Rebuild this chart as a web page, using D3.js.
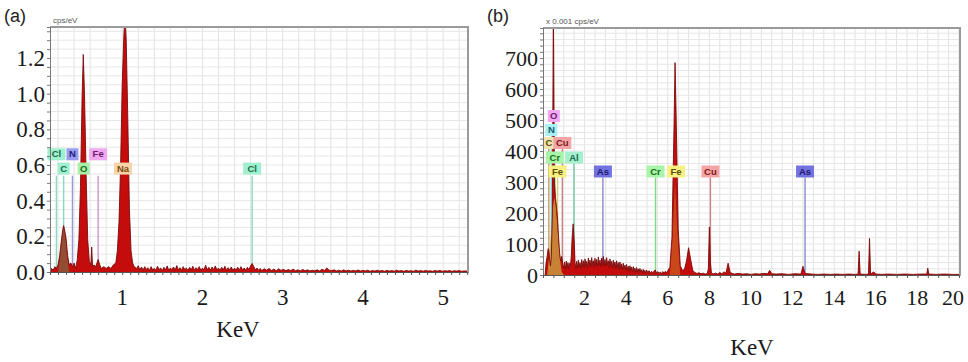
<!DOCTYPE html>
<html>
<head>
<meta charset="utf-8">
<script src="https://cdn.jsdelivr.net/npm/d3@7"></script>
<style>
  body { margin: 0; background: #fff; }
  svg { display: block; }
</style>
</head>
<body>
<svg id="chart" width="968" height="362"></svg>
<script>
// ---- data ----

// (a) spectrum, [keV, cps/eV]
const spectrumA = [
  [0.10,0.00],[0.12,0.02],[0.14,0.01],[0.16,0.03],[0.18,0.02],[0.20,0.04],[0.22,0.09],[0.24,0.17],
  [0.26,0.24],[0.27,0.26],[0.28,0.24],[0.30,0.19],[0.32,0.09],[0.34,0.04],[0.36,0.05],[0.38,0.03],
  [0.40,0.05],[0.42,0.02],[0.44,0.07],[0.46,0.18],[0.48,0.48],[0.50,0.98],[0.515,1.22],[0.53,1.00],
  [0.55,0.55],[0.57,0.18],[0.59,0.06],[0.61,0.04],[0.62,0.14],[0.63,0.03],[0.65,0.04],[0.67,0.03],
  [0.70,0.07],[0.72,0.04],[0.74,0.02],[0.77,0.03],[0.80,0.02],[0.83,0.03],[0.86,0.02],[0.89,0.04],
  [0.92,0.05],[0.94,0.12],[0.96,0.28],[0.98,0.60],[1.00,1.05],[1.02,1.32],[1.035,1.45],[1.05,1.30],
  [1.07,0.85],[1.09,0.35],[1.11,0.12],[1.13,0.05],[1.15,0.03],[1.18,0.02],
  [1.20,0.035],[1.22,0.012],[1.24,0.028],[1.26,0.01],[1.28,0.03],[1.30,0.014],[1.32,0.024],[1.34,0.008],
  [1.36,0.03],[1.38,0.012],[1.40,0.02],[1.42,0.01],[1.44,0.032],[1.46,0.014],[1.48,0.022],[1.50,0.008],
  [1.52,0.026],[1.54,0.012],[1.56,0.034],[1.58,0.01],[1.60,0.022],[1.62,0.014],[1.64,0.028],[1.66,0.01],
  [1.68,0.036],[1.70,0.012],[1.72,0.024],[1.74,0.01],[1.76,0.03],[1.78,0.014],[1.80,0.022],[1.82,0.008],
  [1.84,0.026],[1.86,0.012],[1.88,0.032],[1.90,0.01],[1.92,0.024],[1.94,0.014],[1.96,0.03],[1.98,0.01],
  [2.00,0.022],[2.02,0.012],[2.04,0.038],[2.06,0.012],[2.08,0.026],[2.10,0.01],[2.12,0.028],[2.14,0.012],
  [2.16,0.034],[2.18,0.012],[2.20,0.022],[2.22,0.01],[2.24,0.026],[2.26,0.012],[2.28,0.032],[2.30,0.01],
  [2.32,0.024],[2.34,0.012],[2.36,0.028],[2.38,0.008],[2.40,0.022],[2.42,0.012],[2.44,0.026],[2.46,0.01],
  [2.48,0.03],[2.50,0.012],[2.52,0.022],[2.54,0.01],[2.56,0.026],[2.58,0.014],[2.60,0.034],[2.62,0.048],
  [2.64,0.03],[2.66,0.012],[2.68,0.022],[2.70,0.01],[2.72,0.02],[2.74,0.008],[2.77,0.018],[2.80,0.01],
  [2.83,0.02],[2.86,0.008],[2.89,0.016],[2.92,0.007],[2.95,0.018],[2.98,0.009],[3.01,0.015],[3.04,0.007],
  [3.07,0.014],[3.10,0.008],[3.13,0.016],[3.16,0.007],[3.19,0.012],[3.22,0.006],[3.25,0.014],[3.28,0.007],
  [3.31,0.012],[3.34,0.006],[3.37,0.01],[3.40,0.007],[3.43,0.012],[3.46,0.006],[3.49,0.015],[3.52,0.009],
  [3.55,0.022],[3.58,0.01],[3.61,0.008],[3.64,0.012],[3.67,0.006],[3.70,0.01],[3.73,0.005],[3.76,0.012],
  [3.79,0.006],[3.82,0.01],[3.85,0.005],[3.88,0.009],[3.91,0.006],[3.94,0.011],[3.97,0.005],[4.00,0.009],
  [4.03,0.006],[4.06,0.01],[4.09,0.004],[4.12,0.008],[4.15,0.005],[4.18,0.01],[4.21,0.005],[4.24,0.008],
  [4.27,0.004],[4.30,0.009],[4.33,0.005],[4.36,0.008],[4.39,0.004],[4.42,0.01],[4.45,0.005],[4.48,0.008],
  [4.51,0.004],[4.54,0.009],[4.57,0.005],[4.60,0.007],[4.63,0.004],[4.66,0.01],[4.69,0.005],[4.72,0.008],
  [4.75,0.004],[4.78,0.009],[4.81,0.005],[4.84,0.007],[4.87,0.004],[4.90,0.008],[4.93,0.005],[4.96,0.009],
  [4.99,0.004],[5.02,0.007],[5.05,0.005],[5.08,0.008],[5.11,0.004],[5.14,0.007],[5.17,0.005],[5.20,0.008],
  [5.23,0.004],[5.26,0.006],[5.30,0.005]
];
// brownish fitted C peak drawn over (a)
const fitA = [[0.20,0],[0.23,0.10],[0.25,0.20],[0.27,0.25],[0.29,0.21],[0.31,0.10],[0.34,0]];

// (b) spectrum, [keV, x0.001 cps/eV]
const spectrumB = [
  [0.10,0],[0.15,40],[0.20,60],[0.25,85],[0.28,80],[0.32,50],[0.36,30],[0.40,60],[0.45,200],[0.50,880],
  [0.55,300],[0.60,250],[0.65,220],[0.70,180],[0.75,120],[0.80,70],[0.85,45],[0.90,60],[0.93,45],[0.97,30],
  [1.00,22],[1.04,42],[1.08,18],[1.12,45],[1.16,24],[1.20,40],[1.24,20],[1.28,38],[1.32,30],[1.36,60],
  [1.40,120],[1.45,165],[1.50,110],[1.54,40],[1.58,20],[1.62,44],[1.66,22],[1.70,48],[1.74,26],[1.78,40],
  [1.82,20],[1.86,50],[1.90,28],[1.94,46],[1.98,24],[2.02,52],[2.06,30],[2.10,44],[2.14,22],[2.18,55],
  [2.22,32],[2.26,48],[2.30,26],[2.34,56],[2.38,34],[2.42,46],[2.46,24],[2.50,54],[2.54,30],[2.58,50],
  [2.62,28],[2.66,58],[2.70,32],[2.74,48],[2.78,26],[2.82,55],[2.86,34],[2.90,60],[2.94,30],[2.98,50],
  [3.02,28],[3.06,56],[3.10,34],[3.14,46],[3.18,24],[3.22,52],[3.26,30],[3.30,44],[3.34,22],[3.38,48],
  [3.42,28],[3.46,42],[3.50,20],[3.54,46],[3.58,26],[3.62,40],[3.66,18],[3.70,42],[3.74,22],[3.78,36],
  [3.82,16],[3.86,38],[3.90,20],[3.94,32],[3.98,14],[4.02,34],[4.06,18],[4.10,28],[4.14,12],[4.18,30],
  [4.22,16],[4.26,26],[4.30,10],[4.34,27],[4.38,14],[4.42,22],[4.46,9],[4.50,24],[4.54,12],[4.58,20],
  [4.62,8],[4.66,21],[4.70,10],[4.74,17],[4.78,7],[4.82,18],[4.86,9],[4.90,15],[4.94,6],[4.98,16],
  [5.04,8],[5.10,14],[5.16,6],[5.22,12],[5.28,5],[5.34,13],[5.40,16],[5.46,6],[5.52,11],[5.58,5],
  [5.64,10],[5.70,4],[5.76,11],[5.82,6],[5.88,12],[5.94,7],[6.00,14],[6.10,25],[6.20,120],[6.30,480],
  [6.35,685],[6.40,520],[6.50,150],[6.60,30],[6.70,15],[6.80,18],[6.90,45],[7.00,88],[7.10,50],[7.20,15],
  [7.30,8],[7.40,5],[7.50,7],[7.60,4],[7.70,6],[7.80,3],[7.90,5],[7.95,20],[8.00,155],[8.05,40],
  [8.10,5],[8.20,4],[8.30,6],[8.40,3],[8.50,8],[8.60,4],[8.70,10],[8.80,6],[8.90,38],[9.00,8],
  [9.10,5],[9.20,3],[9.40,5],[9.60,3],[9.80,4],[10.0,2],[10.2,4],[10.4,3],[10.6,5],[10.8,4],
  [10.9,15],[11.0,4],[11.2,3],[11.5,4],[11.8,2],[12.1,4],[12.4,3],[12.5,28],[12.6,5],[12.9,3],
  [13.2,2],[13.5,3],[13.8,2],[14.1,3],[14.4,2],[14.7,3],[15.0,2],[15.15,3],[15.2,77],[15.25,3],
  [15.5,2],[15.65,3],[15.7,118],[15.75,3],[15.9,10],[16.0,3],[16.3,2],[16.6,3],[17.0,2],[17.4,3],
  [17.8,2],[18.2,3],[18.45,3],[18.5,22],[18.55,3],[18.9,2],[19.3,3],[19.7,2],[20.05,2]
];
// tan fitted overlays in (b)
const fitB = [[0.20,0],[0.30,60],[0.40,150],[0.50,230],[0.55,250],[0.60,230],[0.70,150],[0.80,60],[0.90,10],[1.00,0]];
const fitB2 = [[6.10,0],[6.25,150],[6.35,300],[6.45,150],[6.60,0]];

// element markers
const elementsA = ["Cl", "C", "N", "O", "Fe", "Na", "Cl"];
const energiesA = [0.18, 0.27, 0.38, 0.52, 0.70, 1.01, 2.62];
const rowsA = [1, 0, 1, 0, 1, 0, 0];

const elementsB = ["O", "N", "C", "Cu", "Cr", "Al", "Fe", "As", "Cr", "Fe", "Cu", "As"];
const energiesB = [0.52, 0.40, 0.28, 0.93, 0.57, 1.49, 0.70, 2.88, 5.41, 6.40, 8.05, 12.6];
const rowsB = [4, 3, 2, 2, 1, 1, 0, 0, 0, 0, 0, 0];

// tick labels
const yTicksA = [0, 0.2, 0.4, 0.6, 0.8, 1.0, 1.2];
const xTicksA = [1, 2, 3, 4, 5];
const yTicksB = [0, 100, 200, 300, 400, 500, 600, 700];
const xTicksB = [2, 4, 6, 8, 10, 12, 14, 16, 18, 20];

// box colours per element: [fill, text, line]
const palette = {
  Cl: ["#9ff0cf", "#1a6a4a", "#86dcbc"],
  C:  ["#9ff0cf", "#1a6a4a", "#86dcbc"],
  N:  ["#9a9af0", "#20207a", "#9898d8"],
  O:  ["#a8f0a8", "#1a6a1a", "#98d898"],
  Fe: ["#f0a8f0", "#6a206a", "#c898c8"],
  Na: ["#f8d4a8", "#7a4a10", "#e8c090"],
  Cu: ["#f4a4a4", "#7a1a1a", "#d08080"],
  Cr: ["#a8f4a8", "#1a6a1a", "#80d880"],
  Al: ["#a4f0cc", "#1a6a4a", "#70c8a0"],
  As: ["#7272e0", "#1a1a70", "#8a8ad0"]
};
const paletteB = Object.assign({}, palette, {
  O:  ["#f4a8f4", "#6a206a", "#c898c8"],
  N:  ["#a8f0f4", "#1a5a6a", "#90d0d8"],
  C:  ["#f0e4b0", "#5a4a10", "#c0a060"],
  Fe: ["#f8f080", "#5a5010", "#d8d070"]
});

const svg = d3.select("#chart");

function drawPanel(cfg) {
  const { x, y } = cfg;
  const [x0, x1] = x.range();
  const [yb, yt] = y.range();
  const g = svg.append("g");

  // grid
  g.append("g").selectAll("line").data(cfg.gridX).join("line")
    .attr("x1", d => x(d)).attr("x2", d => x(d)).attr("y1", yt).attr("y2", yb)
    .attr("stroke", "#e2e2e2").attr("stroke-width", 1);
  g.append("g").selectAll("line").data(cfg.gridY).join("line")
    .attr("x1", x0).attr("x2", x1).attr("y1", d => y(d)).attr("y2", d => y(d))
    .attr("stroke", "#e6e6e6").attr("stroke-width", 1);

  const clipId = "clip" + cfg.id;
  svg.append("clipPath").attr("id", clipId).append("rect")
    .attr("x", x0).attr("y", yt).attr("width", x1 - x0).attr("height", yb - yt);

  // marker lines (behind the spectrum)
  const markers = cfg.elements.map((el, i) => ({ el, e: cfg.energies[i], row: cfg.rows[i] }));
  const boxH = 12;
  markers.forEach(m => {
    m.cy = y(cfg.rowValues[m.row]);
    m.w = m.el.length * 6 + 6;
  });
  g.append("g").selectAll("line").data(markers).join("line")
    .attr("x1", d => x(d.e)).attr("x2", d => x(d.e))
    .attr("y1", d => cfg.lineTop != null ? y(cfg.lineTop) : d.cy + boxH / 2)
    .attr("y2", yb)
    .attr("stroke", d => cfg.palette[d.el][2]).attr("stroke-width", 1.4);

  // spectrum
  const area = d3.area().x(d => x(d[0])).y0(yb).y1(d => y(d[1]));
  const line = d3.line().x(d => x(d[0])).y(d => y(d[1]));
  const sg = g.append("g").attr("clip-path", `url(#${clipId})`);
  sg.append("path").datum(cfg.spectrum).attr("d", area).attr("fill", "#c40c0c");
  cfg.fits.forEach(f => {
    sg.append("path").datum(f.data).attr("d", area)
      .attr("fill", f.color).attr("opacity", f.opacity);
  });
  sg.append("path").datum(cfg.spectrum).attr("d", line)
    .attr("fill", "none").attr("stroke", "#7a0a0a").attr("stroke-width", 0.9);

  // marker boxes
  const mg = g.append("g").selectAll("g").data(markers).join("g")
    .attr("transform", d => `translate(${x(d.e) - d.w / 2},${d.cy - boxH / 2})`);
  mg.append("rect").attr("width", d => d.w).attr("height", boxH)
    .attr("fill", d => cfg.palette[d.el][0]);
  mg.append("text").attr("x", d => d.w / 2).attr("y", boxH / 2 + 0.5)
    .attr("text-anchor", "middle").attr("dominant-baseline", "middle")
    .attr("font-family", "Liberation Sans, Arial, sans-serif").attr("font-size", 9.5)
    .attr("font-weight", "bold").attr("fill", d => cfg.palette[d.el][1])
    .text(d => d.el);

  // frame
  g.append("path")
    .attr("d", `M${x0},${yt}H${x1}V${yb}`)
    .attr("fill", "none").attr("stroke", "#9a9a9a").attr("stroke-width", 2);

  // left axis with minor ticks
  const yAxis = d3.axisLeft(y).tickValues(cfg.minorY).tickSize(3).tickFormat("");
  g.append("g").attr("transform", `translate(${x0},0)`).call(yAxis)
    .call(s => s.selectAll("line,path").attr("stroke", "#777"));
  // bottom axis with minor ticks
  const xAxis = d3.axisBottom(x).tickValues(cfg.minorX).tickSizeInner(3).tickSizeOuter(0).tickFormat("");
  g.append("g").attr("transform", `translate(0,${yb})`).call(xAxis)
    .call(s => s.selectAll("line,path").attr("stroke", "#555"));

  // tick labels
  const serif = "Liberation Serif, Times New Roman, serif";
  g.append("g").selectAll("text").data(cfg.yTicks).join("text")
    .attr("x", x0 - 5).attr("y", d => y(d)).attr("dy", "0.35em")
    .attr("text-anchor", "end").attr("font-family", serif).attr("font-size", cfg.tickSize)
    .attr("fill", "#1a1a1a").text(cfg.yFormat);
  g.append("g").selectAll("text").data(cfg.xTicks).join("text")
    .attr("x", d => Math.min(x(d), cfg.xLabelMax)).attr("y", cfg.xLabelY)
    .attr("text-anchor", "middle").attr("font-family", serif).attr("font-size", cfg.tickSize)
    .attr("fill", "#1a1a1a").text(d => d);
  g.append("text").attr("x", cfg.titlePos[0]).attr("y", cfg.titlePos[1])
    .attr("text-anchor", "middle").attr("font-family", serif).attr("font-size", 23)
    .attr("fill", "#1a1a1a").text("KeV");

  // panel letter and unit
  g.append("text").attr("x", cfg.letterPos[0]).attr("y", cfg.letterPos[1])
    .attr("font-family", "Liberation Sans, Arial, sans-serif").attr("font-size", 18)
    .attr("fill", "#222").text(cfg.letter);
  g.append("text").attr("x", x0 + 3).attr("y", yt - 4)
    .attr("font-family", "Liberation Sans, Arial, sans-serif").attr("font-size", 8)
    .attr("fill", "#555").text(cfg.unit);
}

drawPanel({
  id: "A",
  x: d3.scaleLinear().domain([0.1, 5.31]).range([50, 468]),
  y: d3.scaleLinear().domain([0, 1.374]).range([272, 27]),
  spectrum: spectrumA,
  fits: [{ data: fitA, color: "#8a5a3a", opacity: 0.85 }],
  elements: elementsA, energies: energiesA, rows: rowsA,
  rowValues: [0.58, 0.66], lineTop: 0.54,
  palette: palette,
  gridX: d3.range(0.2, 5.31, 0.2), gridY: d3.range(0.05, 1.37, 0.05),
  minorY: d3.range(0, 1.37, 0.05), minorX: d3.range(0.1, 5.31, 0.1),
  yTicks: yTicksA, yFormat: d3.format(".1f"),
  xTicks: xTicksA, xLabelY: 305, xLabelMax: 960, tickSize: 23,
  titlePos: [238, 337], letterPos: [4, 22], letter: "(a)", unit: "cps/eV"
});

drawPanel({
  id: "B",
  x: d3.scaleLinear().domain([0, 20.05]).range([543, 960]),
  y: d3.scaleLinear().domain([0, 797]).range([275, 28]),
  spectrum: spectrumB,
  fits: [{ data: fitB, color: "#c8a040", opacity: 0.8 }, { data: fitB2, color: "#d0902a", opacity: 0.45 }],
  elements: elementsB, energies: energiesB, rows: rowsB,
  rowValues: [334, 379, 426, 468, 513], lineTop: null,
  palette: paletteB,
  gridX: d3.range(0.5, 20.05, 0.5), gridY: d3.range(20, 797, 20),
  minorY: d3.range(0, 797, 20), minorX: d3.range(0, 20.05, 0.5),
  yTicks: yTicksB, yFormat: d => d,
  xTicks: xTicksB, xLabelY: 305, xLabelMax: 953, tickSize: 22,
  titlePos: [752, 355], letterPos: [487, 22], letter: "(b)", unit: "x 0.001 cps/eV"
});
</script>
</body>
</html>
